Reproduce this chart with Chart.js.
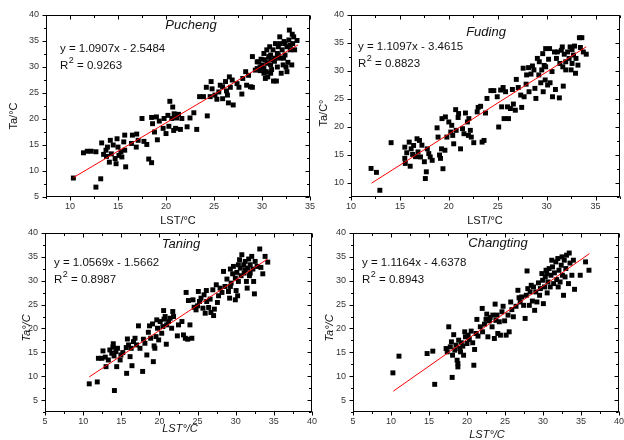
<!DOCTYPE html>
<html>
<head>
<meta charset="utf-8">
<script src="https://cdn.jsdelivr.net/npm/chart.js@4.4.1/dist/chart.umd.min.js"></script>
<style>
  html, body { margin: 0; padding: 0; background: #fff; overflow: hidden; }
  body { width: 624px; height: 440px; position: relative; }
  .panel { position: absolute; }
</style>
</head>
<body>
<div class="panel" style="left:0;top:0"><canvas id="pucheng" width="322" height="226"></canvas></div>
<div class="panel" style="left:312px;top:0"><canvas id="fuding" width="312" height="226"></canvas></div>
<div class="panel" style="left:0;top:220px"><canvas id="taning" width="322" height="220"></canvas></div>
<div class="panel" style="left:312px;top:220px"><canvas id="changting" width="320" height="220"></canvas></div>
<script>
// --- data (LST vs Ta, degC) ---
const stations = ['Pucheng', 'Fuding', 'Taning', 'Changting'];
const equations = ['y = 1.0907x - 2.5484', 'y = 1.1097x - 3.4615', 'y = 1.0569x - 1.5662', 'y = 1.1164x - 4.6378'];
const r2Values = ['0.9263', '0.8823', '0.8987', '0.8943'];

const puchengLST = [10.35,11.4,11.8,12.2,12.7,12.7,13.2,13.3,13.5,13.75,13.9,14.1,14.2,14.3,14.7,14.8,14.9,15.0,15.1,15.3,15.6,15.7,15.7,15.8,16.4,16.5,16.9,16.95,17.1,17.5,17.7,18.0,18.2,18.5,18.5,18.6,18.8,19.0,19.1,19.3,19.7,19.8,20.0,20.2,20.3,20.4,20.6,20.7,20.8,20.85,21.0,21.1,21.3,21.5,21.65,22.2,22.5,22.9,23.2,23.5,23.9,24.2,24.3,24.6,24.7,24.8,25.1,25.3,25.5,25.65,25.9,25.9,26.2,26.3,26.4,26.5,26.6,26.7,26.9,27.0,27.4,27.6,27.9,28.0,28.3,28.4,28.6,28.8,29.0,29.0,29.3,29.5,29.65,29.8,29.8,29.9,30.0,30.2,30.2,30.35,30.45,30.5,30.6,30.7,30.8,30.9,30.9,31.0,31.15,31.2,31.3,31.4,31.5,31.6,31.6,31.7,31.85,31.9,32.0,32.1,32.2,32.3,32.4,32.5,32.6,32.7,32.8,32.85,32.95,33.1,33.15,33.2,33.4,33.65,30.5,30.9,31.4,31.9,32.25,30.9,30.2,29.5,31.7,32.4,32.95,33.3,30.35,32.6,14.5,15.4,13.8];
const puchengTa = [8.65,13.5,13.8,13.8,13.7,6.9,8.5,15.4,13.2,14.0,14.6,11.7,15.9,13.3,12.4,11.4,16.2,14.6,13.0,13.7,15.6,16.9,14.0,10.8,15.3,16.9,14.6,17.1,15.9,20.1,15.7,15.1,12.3,11.6,20.3,19.1,17.5,20.4,16.0,19.6,18.2,20.1,17.2,20.7,18.6,23.4,20.1,22.3,17.8,21.0,18.2,20.2,20.9,18.0,20.1,18.5,20.2,21.2,18.0,24.3,24.3,26.1,20.6,24.3,27.2,25.8,24.6,23.8,25.2,26.5,26.2,23.9,27.2,25.4,24.6,23.1,28.1,26.1,27.5,22.7,26.8,26.1,24.8,27.8,29.1,26.5,28.4,26.2,32.0,26.1,29.4,29.7,31.0,29.3,30.0,31.5,30.4,32.6,29.7,31.4,29.1,30.7,28.1,32.0,33.9,30.4,32.3,29.5,33.3,27.3,31.1,34.5,27.3,32.6,30.0,33.9,35.8,31.7,28.8,33.3,30.4,34.9,32.3,30.0,33.9,30.9,35.2,37.1,33.3,30.4,36.3,34.5,33.3,35.1,33.3,31.4,31.7,34.5,31.7,28.8,28.8,31.0,32.3,34.5,34.2,35.8,27.8,29.1,15.0,12.7,12.8];
const puchengFitLST = [10.35, 33.75];
const puchengFitTa = [8.74, 34.26];

const fudingLST = [12.05,12.6,12.95,14.1,15.5,15.5,15.55,15.7,15.95,16.05,16.15,16.3,16.4,16.6,16.75,16.85,17.0,17.1,17.25,17.5,17.6,17.7,17.8,17.95,18.1,18.3,18.8,18.9,19.05,19.15,19.25,19.3,19.4,19.6,19.65,19.8,20.0,20.2,20.3,20.4,20.5,20.7,20.75,20.95,21.0,21.2,21.4,21.55,21.7,21.9,22.0,22.05,22.2,22.3,22.55,22.9,23.0,23.25,23.4,23.6,23.75,23.9,24.3,24.6,24.95,25.1,25.3,25.4,25.55,25.65,25.8,26.0,26.1,26.3,26.5,26.6,26.8,26.9,27.1,27.35,27.45,27.6,27.7,27.9,27.95,28.15,28.2,28.4,28.55,28.7,28.8,28.9,29.05,29.2,29.25,29.4,29.5,29.6,29.65,29.75,29.85,29.9,30.1,30.2,30.3,30.35,30.55,30.6,30.8,30.9,31.0,31.1,31.3,31.35,31.5,31.6,31.65,31.7,31.8,31.95,32.15,32.3,32.4,32.5,32.6,32.75,32.85,32.95,33.0,33.2,33.35,33.45,33.6,33.75,34.05,32.6,31.95,29.9];
const fudingTa = [12.6,11.9,8.7,17.2,16.4,14.4,13.5,15.4,17.3,13.0,16.1,15.1,16.7,14.7,17.9,15.55,17.6,14.65,16.75,13.8,10.8,12.0,16.1,15.25,14.65,14.05,19.85,18.2,15.0,14.4,16.1,21.5,12.55,15.85,21.8,18.2,20.9,19.1,20.3,18.5,17.0,23.1,19.4,21.7,22.4,16.1,19.7,18.8,22.5,20.9,18.5,21.5,19.4,18.2,17.2,22.7,23.5,23.7,17.3,17.6,22.5,25.1,26.5,26.5,25.4,20.0,26.6,23.6,27.05,21.5,26.3,23.6,21.5,23.3,26.7,24.1,23.0,28.5,27.05,25.7,23.5,30.5,25.4,27.65,29.3,30.6,26.3,29.45,30.9,30.2,26.9,25.1,32.25,29.3,31.65,27.9,30.2,33.1,26.3,31.0,28.4,34.0,27.5,32.1,34.0,27.9,29.9,25.4,33.4,26.7,32.25,33.4,25.2,31.35,33.7,34.3,30.75,27.3,33.0,31.65,33.4,32.25,34.3,30.2,33.85,32.85,34.45,29.6,32.25,31.05,35.95,34.2,35.95,33.4,33.0,31.35,30.2,30.75];
const fudingFitLST = [12.1, 34.05];
const fudingFitTa = [9.97, 34.32];

const taningLST = [10.8,11.85,12.0,12.45,12.6,12.9,13.0,13.3,13.5,13.75,13.9,13.95,14.05,14.1,14.3,14.4,14.5,14.85,14.95,15.2,15.65,15.7,15.8,15.95,16.15,16.3,16.4,16.6,16.8,17.0,17.25,17.45,17.8,17.9,18.1,18.35,18.55,18.7,18.85,19.1,19.2,19.3,19.4,19.55,19.65,19.75,19.9,20.1,20.3,20.45,20.55,20.6,20.75,20.9,20.95,21.2,21.4,21.6,21.75,21.85,22.35,22.5,22.95,23.15,23.4,23.5,23.7,23.8,24.0,24.25,24.4,24.55,24.8,25.0,25.1,25.25,25.45,25.7,25.85,26.0,26.15,26.2,26.45,26.65,26.75,27.0,27.1,27.2,27.45,27.6,27.75,27.95,28.2,28.4,28.6,28.85,29.05,29.2,29.3,29.4,29.6,29.7,29.95,30.05,30.15,30.25,30.35,30.5,30.6,30.7,30.8,31.05,31.1,31.25,31.4,31.55,31.7,31.8,31.9,32.1,32.25,32.35,32.45,32.55,32.8,33.15,33.3,33.55,33.85,34.2,31.25,31.9,30.35,31.5,29.3,29.95];
const taningTa = [8.4,8.8,13.75,13.75,15.3,14.0,12.0,13.4,15.5,14.8,16.1,16.8,14.25,7.0,15.15,12.0,15.85,13.4,14.45,14.95,16.0,10.6,17.8,16.55,14.1,15.85,12.2,17.25,17.95,16.55,20.55,15.85,11.0,17.75,16.9,14.45,19.2,20.55,17.95,20.95,13.05,16.35,15.85,18.3,21.8,20.05,17.6,21.45,19.0,20.4,23.75,21.95,22.5,16.7,20.75,21.45,22.15,20.05,23.55,22.5,18.45,20.75,21.45,18.65,17.95,27.55,17.75,25.85,20.75,17.95,26.0,24.45,23.9,24.75,27.75,25.65,26.35,24.25,27.05,23.2,27.95,25.65,24.4,26.15,23.35,28.1,22.7,24.05,29.15,25.45,26.85,28.45,27.55,31.95,28.8,30.35,27.75,26.35,32.45,29.5,31.45,33.0,30.55,27.95,31.75,26.85,29.85,34.4,32.65,31.05,35.45,33.35,31.6,34.05,29.85,32.65,34.55,31.05,33.35,35.1,32.45,29.85,27.25,34.05,33.0,36.65,32.8,31.45,35.1,33.9,32.3,31.6,33.35,28.45,28.8,26.0];
const taningFitLST = [10.8, 34.15];
const taningFitTa = [9.85, 34.53];

const changtingLST = [10.25,11.05,14.75,15.5,15.75,17.25,17.4,17.6,17.8,17.95,18.05,18.1,18.25,18.4,18.55,18.7,18.8,18.8,18.9,19.05,19.15,19.25,19.45,19.55,19.7,19.8,20.0,20.15,20.3,20.55,20.75,20.9,21.0,21.2,21.3,21.45,21.75,22.0,22.05,22.3,22.5,22.6,22.75,22.95,23.05,23.3,23.4,23.6,23.7,23.8,23.95,24.05,24.25,24.4,24.6,24.75,24.95,25.15,25.4,25.55,25.75,25.9,26.1,26.45,26.7,26.85,27.0,27.2,27.45,27.65,27.8,27.9,28.0,28.2,28.3,28.45,28.6,28.75,28.9,29.05,29.2,29.4,29.55,29.65,29.85,29.95,30.05,30.2,30.3,30.4,30.55,30.65,30.8,30.95,31.05,31.25,31.4,31.5,31.7,31.8,31.95,32.1,32.25,32.4,32.55,32.7,32.8,33.0,33.1,33.35,33.45,33.55,33.8,34.0,34.15,34.9,35.6,36.05,31.15,32.5,30.5,32.0,32.9];
const changtingTa = [10.7,14.2,14.75,15.25,8.3,15.8,15.1,20.35,16.15,17.2,9.75,14.4,18.7,15.45,16.5,13.35,11.95,12.65,17.55,15.8,15.1,17.0,16.3,14.4,19.3,18.25,16.85,18.6,17.7,19.45,17.0,12.3,15.6,18.95,21.9,18.4,20.35,24.2,19.3,20.9,21.9,23.0,18.25,21.6,22.3,20.35,22.8,17.9,25.1,21.7,22.8,18.95,21.4,18.6,23.5,24.65,21.6,18.6,22.8,19.3,25.55,23.95,22.45,24.65,28.0,26.45,25.55,26.6,24.85,22.1,26.95,32.05,28.35,24.85,27.65,29.05,25.75,28.7,23.8,27.65,25.55,29.55,26.95,28.35,31.5,30.1,25.2,28.7,30.8,32.2,27.45,29.75,32.55,28.7,31.15,32.9,29.4,31.65,33.95,30.25,34.65,32.2,29.75,33.25,31.15,26.95,34.3,32.55,35.35,29.4,35.8,33.7,31.15,34.3,28.2,31.15,33.95,32.2,34.3,35.0,31.5,28.7,30.8];
const changtingFitLST = [10.3, 36.1];
const changtingFitTa = [6.86, 35.66];

// tick labels
const upperXTicks = [10, 15, 20, 25, 30, 35];
const puchengYTicks = [5, 10, 15, 20, 25, 30, 35, 40];
const fudingYTicks = [10, 15, 20, 25, 30, 35, 40];
const lowerXTicks = [5, 10, 15, 20, 25, 30, 35, 40];
const lowerYTicks = [5, 10, 15, 20, 25, 30, 35, 40];

const FONT = '"Liberation Sans", Arial, sans-serif';

const toPoints = (xs, ys) => xs.map((x, i) => ({ x: x, y: ys[i] }));

// box + ticks: left/bottom point out, top/right point in, minor ticks halfway
const frameTicks = {
  id: 'frameTicks',
  afterDraw(chart) {
    const { ctx, chartArea: a, scales } = chart;
    const L = Math.round(a.left) + 0.5, R = Math.round(a.right) - 0.5;
    const T = Math.round(a.top) + 0.5, B = Math.round(a.bottom) - 0.5;
    ctx.save();
    ctx.strokeStyle = '#000';
    ctx.lineWidth = 1;
    ctx.strokeRect(L, T, R - L, B - T);
    const drawAxis = (scale, horiz) => {
      const major = scale.ticks.map(t => t.value);
      const minor = [];
      major.forEach(v => {
        [v - 2.5, v + 2.5].forEach(m => {
          if (m >= scale.min && m <= scale.max && !minor.includes(m) && !major.includes(m)) minor.push(m);
        });
      });
      ctx.beginPath();
      [[major, 4], [minor, 2.5]].forEach(([vals, len]) => {
        vals.forEach(v => {
          const p = Math.round(scale.getPixelForValue(v)) + 0.5;
          if (horiz) {
            ctx.moveTo(p, B); ctx.lineTo(p, B + len);
            ctx.moveTo(p, T); ctx.lineTo(p, T + len);
          } else {
            ctx.moveTo(L, p); ctx.lineTo(L - len, p);
            ctx.moveTo(R, p); ctx.lineTo(R - len, p);
          }
        });
      });
      ctx.stroke();
    };
    drawAxis(scales.x, true);
    drawAxis(scales.y, false);
    ctx.restore();
  }
};

const panelText = {
  id: 'panelText',
  afterDraw(chart, args, o) {
    const ctx = chart.ctx;
    ctx.save();
    ctx.fillStyle = '#111';
    ctx.textBaseline = 'middle';

    ctx.textAlign = 'center';
    ctx.font = 'italic 13px ' + FONT;
    ctx.fillText(o.title, o.titleAt[0], o.titleAt[1]);

    ctx.textAlign = 'left';
    ctx.font = '11.5px ' + FONT;
    ctx.fillText(o.equation, o.eqAt[0], o.eqAt[1]);
    // R squared with superscript
    let x = o.eqAt[0];
    const y = o.eqAt[1] + 17;
    ctx.fillText('R', x, y);
    x += ctx.measureText('R').width;
    ctx.font = '9px ' + FONT;
    ctx.fillText('2', x + 0.5, y - 5);
    x += ctx.measureText('2').width + 0.5;
    ctx.font = '11.5px ' + FONT;
    ctx.fillText(' = ' + o.r2, x, y);

    const style = o.italicAxes ? 'italic ' : '';
    ctx.font = style + '11px ' + FONT;
    ctx.textAlign = 'center';
    ctx.fillText(o.xTitle, o.xTitleAt[0], o.xTitleAt[1]);
    ctx.translate(o.yTitleAt[0], o.yTitleAt[1]);
    ctx.rotate(-Math.PI / 2);
    ctx.fillText(o.yTitle, 0, 0);
    ctx.restore();
  }
};

function makePanel(id, cfg) {
  const tickFont = { family: FONT, size: 9 };
  new Chart(document.getElementById(id), {
    type: 'scatter',
    data: {
      datasets: [{
        data: toPoints(cfg.xs, cfg.ys),
        pointStyle: 'rect',
        pointRadius: 3.5,
        pointBorderWidth: 0,
        backgroundColor: '#000',
        order: 2
      }, {
        data: toPoints(cfg.fitX, cfg.fitY),
        showLine: true,
        borderColor: '#ff0000',
        borderWidth: 1,
        pointRadius: 0,
        order: 1
      }]
    },
    options: {
      responsive: false,
      animation: false,
      layout: { padding: { top: cfg.top, right: cfg.right, left: 0, bottom: 0 } },
      plugins: {
        legend: { display: false },
        tooltip: { enabled: false },
        panelText: cfg.text
      },
      scales: {
        x: {
          type: 'linear', min: cfg.xMin, max: cfg.xMax,
          grid: { display: false, drawTicks: false },
          border: { display: false },
          ticks: { font: tickFont, color: '#333', padding: 4, maxRotation: 0, autoSkip: false },
          afterBuildTicks: s => { s.ticks = cfg.xTicks.map(v => ({ value: v })); },
          afterFit: s => { s.height = cfg.xAxisH; }
        },
        y: {
          type: 'linear', min: cfg.yMin, max: cfg.yMax,
          grid: { display: false, drawTicks: false },
          border: { display: false },
          ticks: { font: tickFont, color: '#333', padding: 7, autoSkip: false },
          afterBuildTicks: s => { s.ticks = cfg.yTicks.map(v => ({ value: v })); },
          afterFit: s => { s.width = cfg.yAxisW; }
        }
      }
    },
    plugins: [frameTicks, panelText]
  });
}

makePanel('pucheng', {
  xs: puchengLST, ys: puchengTa, fitX: puchengFitLST, fitY: puchengFitTa,
  xMin: 7.5, xMax: 35, yMin: 5, yMax: 40, xTicks: upperXTicks, yTicks: puchengYTicks,
  top: 15, right: 12, yAxisW: 46, xAxisH: 29,
  text: { title: stations[0], titleAt: [191, 25], equation: equations[0], r2: r2Values[0], eqAt: [60, 49],
          xTitle: 'LST/°C', xTitleAt: [178, 221], yTitle: 'Ta/°C', yTitleAt: [14, 116], italicAxes: false }
});
makePanel('fuding', {
  xs: fudingLST, ys: fudingTa, fitX: fudingFitLST, fitY: fudingFitTa,
  xMin: 10, xMax: 37.5, yMin: 7.5, yMax: 40, xTicks: upperXTicks, yTicks: fudingYTicks,
  top: 15, right: 4, yAxisW: 39, xAxisH: 29,
  text: { title: stations[1], titleAt: [174, 32], equation: equations[1], r2: r2Values[1], eqAt: [46, 47],
          xTitle: 'LST/°C', xTitleAt: [173, 221], yTitle: 'Ta/C°', yTitleAt: [12, 113], italicAxes: false }
});
makePanel('taning', {
  xs: taningLST, ys: taningTa, fitX: taningFitLST, fitY: taningFitTa,
  xMin: 5, xMax: 40, yMin: 2.5, yMax: 40, xTicks: lowerXTicks, yTicks: lowerYTicks,
  top: 13, right: 10, yAxisW: 45, xAxisH: 28,
  text: { title: stations[2], titleAt: [181, 24], equation: equations[2], r2: r2Values[2], eqAt: [54, 43],
          xTitle: 'LST°/C', xTitleAt: [180, 209], yTitle: 'Ta°/C', yTitleAt: [27, 108], italicAxes: true }
});
makePanel('changting', {
  xs: changtingLST, ys: changtingTa, fitX: changtingFitLST, fitY: changtingFitTa,
  xMin: 5, xMax: 40, yMin: 2.5, yMax: 40, xTicks: lowerXTicks, yTicks: lowerYTicks,
  top: 13, right: 13, yAxisW: 41, xAxisH: 28,
  text: { title: stations[3], titleAt: [186, 23], equation: equations[3], r2: r2Values[3], eqAt: [50, 43],
          xTitle: 'LST°/C', xTitleAt: [175, 215], yTitle: 'Ta°/C', yTitleAt: [18, 108], italicAxes: true }
});
</script>
</body>
</html>
